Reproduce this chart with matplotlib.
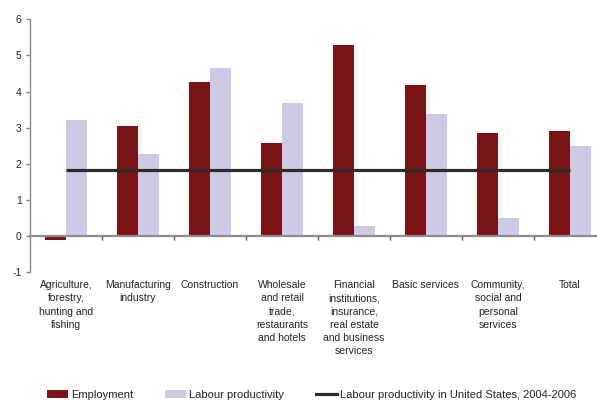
import numpy as np
import matplotlib
matplotlib.use("Agg")
import matplotlib.pyplot as plt
from matplotlib.patches import Patch
from matplotlib.lines import Line2D

plt.rcParams['font.family'] = ['Liberation Sans', 'DejaVu Sans']

categories = [
    "Agriculture,\nforestry,\nhunting and\nfishing",
    "Manufacturing\nindustry",
    "Construction",
    "Wholesale\nand retail\ntrade,\nrestaurants\nand hotels",
    "Financial\ninstitutions,\ninsurance,\nreal estate\nand business\nservices",
    "Basic services",
    "Community,\nsocial and\npersonal\nservices",
    "Total",
]
employment = [-0.11, 3.05, 4.27, 2.57, 5.29, 4.18, 2.85, 2.91]
productivity = [3.21, 2.27, 4.65, 3.69, 0.28, 3.38, 0.49, 2.49]
us_productivity = 1.81
y_ticks = [-1, 0, 1, 2, 3, 4, 5, 6]

emp_color = "#7b1416"
prod_color = "#cccae6"
line_color = "#2b2b2b"
axis_color = "#8c8c8c"
text_color = "#222222"

fig = plt.figure(figsize=(5.97, 4.0), dpi=100)
ax = fig.add_axes([30 / 597, 0.3205, 576 / 597, 0.631])

centers = np.arange(len(categories)) + 0.5
w = 0.29
ax.bar(centers - w / 2, employment, width=w, color=emp_color, zorder=2)
ax.bar(centers + w / 2, productivity, width=w, color=prod_color, zorder=2)
ax.plot([centers[0], centers[-1]], [us_productivity] * 2,
        color=line_color, lw=2.3, zorder=3, solid_capstyle="butt")

ax.set_xlim(0, len(categories))
ax.set_ylim(-1, 6)
ax.set_yticks(y_ticks)
ax.set_yticklabels([str(t) for t in y_ticks])

for s in ["top", "right"]:
    ax.spines[s].set_visible(False)
ax.spines["bottom"].set_position(("data", 0))
ax.spines["bottom"].set_color(axis_color)
ax.spines["bottom"].set_linewidth(1.6)
ax.spines["bottom"].set_zorder(4)
ax.spines["left"].set_color(axis_color)
ax.spines["left"].set_linewidth(1.0)

ax.set_xticks(np.arange(1, len(categories)))
ax.set_xticklabels([])
ax.tick_params(axis="x", length=3, width=1, color="#555555", direction="out")
ax.tick_params(axis="y", length=3, width=1, color=axis_color, direction="out",
               labelsize=7.5, labelcolor=text_color, pad=3)

for c, label in zip(centers, categories):
    ax.text(c, -0.033, label, transform=ax.get_xaxis_transform(),
            ha="center", va="top", fontsize=7.5, color=text_color,
            linespacing=1.4)

handles = [
    Patch(facecolor=emp_color, label="Employment"),
    Patch(facecolor=prod_color, label="Labour productivity"),
    Line2D([0], [0], color=line_color, lw=2.3,
           label="Labour productivity in United States, 2004-2006"),
]
fig.legend(handles=handles, loc="center left", bbox_to_anchor=(47 / 597, 0.0125),
           ncol=3, frameon=False, borderpad=0, borderaxespad=0,
           fontsize=8.05, labelcolor=text_color, handlelength=1.9,
           handleheight=0.7, handletextpad=0.25, columnspacing=2.85)

fig.savefig("out.png", dpi=100)
